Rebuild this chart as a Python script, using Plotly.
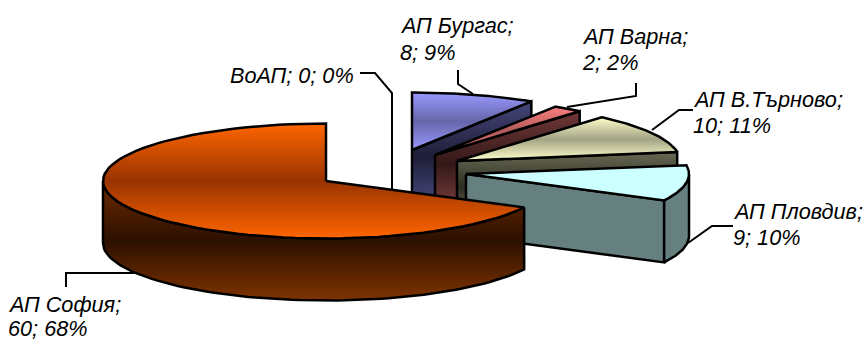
import numpy as np
import plotly.graph_objects as go

# Chart data
names = ["ВоАП", "АП Бургас", "АП Варна", "АП В.Търново", "АП Пловдив", "АП София"]
counts = [0, 8, 2, 10, 9, 60]
shares = ["0%", "9%", "2%", "11%", "10%", "68%"]

# Pie projection, in plot units
RX, RY, DEPTH = 223, 57.5, 62
hubs = {
    "АП Бургас": (412, 150),
    "АП Варна": (435, 155),
    "АП В.Търново": (457, 161),
    "АП Пловдив": (466, 174),
    "АП София": (326, 181),
}

# Top colour, mid-band colour, then side gradient stops
palette = {
    "АП Бургас": (["#9999FF", "#6666AA", "#9999FF"], ["#50508a", "#1e1e38", "#45457a"]),
    "АП Варна": (["#FF8080", "#B05A5A", "#FF8080"], ["#8a4646", "#341818", "#703838"]),
    "АП В.Търново": (["#FFFFCC", "#A3A385", "#FFFFCC"], ["#7f7f66", "#2c2c20", "#6a6a55"]),
    "АП Пловдив": (["#CCFFFF", "#CCFFFF", "#CCFFFF"], ["#668080", "#668080", "#668080"]),
    "АП София": (["#FF6600", "#993300", "#FF6600"], ["#7f3300", "#2c1000", "#702a00"]),
}

# Leader lines, one polyline per label
leaders = [
    ([360, 375, 392, 392], [73, 73, 93, 190]),
    ([458, 458, 473], [70, 84, 94]),
    ([636, 636, 567], [83, 96, 107]),
    ([693, 679, 652], [110, 110, 130]),
    ([733, 712, 688], [226, 226, 243]),
    ([66, 66, 134], [287, 273, 273]),
]

# Label anchors: left edge, centre of first line, centre of second line
label_spots = {
    "ВоАП": (232, 75, None),
    "АП Бургас": (402, 25, 52),
    "АП Варна": (584, 36, 62),
    "АП В.Търново": (695, 99, 125),
    "АП Пловдив": (735, 211, 237),
    "АП София": (10, 304, 328),
}


def rim(hub, a0, a1, drop=0.0, n=80):
    """Points along a slice's rim; angles run clockwise from twelve o'clock."""
    t = np.radians(np.linspace(a0, a1, n))
    return hub[0] + RX * np.sin(t), hub[1] - RY * np.cos(t) + drop


def scale(colors):
    return [[0, colors[0]], [0.5, colors[1]], [1, colors[2]]]


def face(fig, xs, ys, colors):
    xs = np.append(xs, xs[0])
    ys = np.append(ys, ys[0])
    fig.add_trace(go.Scatter(
        x=xs, y=ys, mode="lines", fill="toself",
        fillgradient=dict(type="vertical", colorscale=scale(colors)),
        line=dict(color="#000000", width=2.5),
        hoverinfo="skip", showlegend=False,
    ))


fig = go.Figure()

for lx, ly in leaders:
    fig.add_trace(go.Scatter(x=lx, y=ly, mode="lines",
                             line=dict(color="#000000", width=2),
                             hoverinfo="skip", showlegend=False))

total = sum(counts)
angle = 0.0
for name, count in zip(names, counts):
    sweep = 360 * count / total
    a0, a1 = angle, angle + sweep
    angle = a1
    if count == 0:
        continue
    hub = hubs[name]
    top, side = palette[name]

    # Cut face at the clockwise end of the slice
    if np.sin(np.radians(a1)) > 1e-6:
        ex, ey = rim(hub, a1, a1, n=1)
        face(fig,
             np.array([hub[0], ex[0], ex[0], hub[0]]),
             np.array([hub[1], ey[0], ey[0] + DEPTH, hub[1] + DEPTH]),
             side)

    # Outer wall, only the part turned towards the viewer
    w0, w1 = max(a0, 90), min(a1, 270)
    if w1 > w0:
        ux, uy = rim(hub, w0, w1)
        lx, ly = rim(hub, w1, w0, drop=DEPTH)
        face(fig, np.concatenate([ux, lx]), np.concatenate([uy, ly]), side)

    # Top surface
    rx, ry = rim(hub, a0, a1)
    face(fig, np.concatenate([[hub[0]], rx]), np.concatenate([[hub[1]], ry]), top)

# Labels: name; count; share
annotations = []
for name, count, share in zip(names, counts, shares):
    x, y1, y2 = label_spots[name]
    if y2 is None:
        lines = [(f"{name}; {count}; {share}", y1)]
    else:
        lines = [(f"{name};", y1), (f"{count}; {share}", y2)]
    for text, y in lines:
        annotations.append(dict(
            x=x, y=y, text=f"<i>{text}</i>", showarrow=False,
            xanchor="left", yanchor="middle", xshift=-4,
            font=dict(family="Liberation Sans", size=21.7, color="#000000"),
        ))

fig.update_layout(
    width=866, height=341,
    margin=dict(l=0, r=0, t=0, b=0),
    paper_bgcolor="#FFFFFF", plot_bgcolor="#FFFFFF",
    xaxis=dict(range=[0, 866], visible=False, fixedrange=True),
    yaxis=dict(range=[341, 0], visible=False, fixedrange=True),
    annotations=annotations,
    showlegend=False,
)

fig.write_html("out.html", config={"displayModeBar": False})
